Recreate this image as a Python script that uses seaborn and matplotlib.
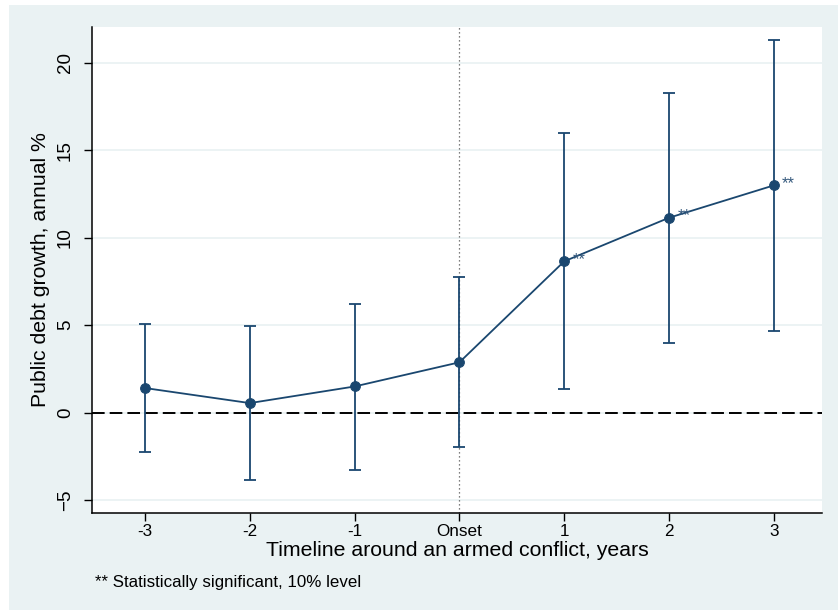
import matplotlib
matplotlib.use("Agg")
import matplotlib.pyplot as plt
from matplotlib.patches import Rectangle
import seaborn as sns
import pandas as pd

# ---- data ----
categories = ["-3", "-2", "-1", "Onset", "1", "2", "3"]
estimate = [1.41, 0.55, 1.50, 2.88, 8.65, 11.14, 12.99]
ci_upper = [5.05, 4.97, 6.20, 7.73, 15.96, 18.28, 21.28]
ci_lower = [-2.24, -3.87, -3.26, -1.94, 1.38, 4.00, 4.67]
significant = [False, False, False, False, True, True, True]
y_ticks = [-5, 0, 5, 10, 15, 20]

BG = "#EAF2F3"
NAVY = "#1A476F"

df = pd.DataFrame({
    "pos": list(range(len(categories))),
    "est": estimate,
    "lo": ci_lower,
    "hi": ci_upper,
    "sig": significant,
})
onset_pos = categories.index("Onset")
df["pos"] = df["pos"] - onset_pos

sns.set_theme(style="white")
plt.rcParams["font.family"] = ["Liberation Sans", "DejaVu Sans"]

fig = plt.figure(figsize=(8.38, 6.12), dpi=100, facecolor="white")
bg_rect = Rectangle((9 / 838, 2 / 612), 1 - 9 / 838, (610 - 5) / 612,
                    transform=fig.transFigure, facecolor=BG,
                    edgecolor="none", zorder=-10)
fig.add_artist(bg_rect)
ax = fig.add_axes([92 / 838, (612 - 513) / 612, (822 - 92) / 838, (513 - 27) / 612])
ax.set_zorder(1)
ax.set_facecolor("white")

# gridlines
ax.set_yticks(y_ticks)
ax.grid(axis="y", color=BG, linewidth=1.3, zorder=0)
ax.grid(axis="x", visible=False)

# reference lines
ax.axhline(0, color="black", linewidth=1.4, dashes=(6.5, 2.6), zorder=1)
ax.axvline(0, color="#555555", linewidth=0.9, linestyle=(0, (1, 2.2)), zorder=1)

# confidence intervals
ax.errorbar(df["pos"], df["est"],
            yerr=[df["est"] - df["lo"], df["hi"] - df["est"]],
            fmt="none", ecolor=NAVY, elinewidth=1.3, capsize=4.2,
            capthick=1.3, zorder=2)

# point estimates
sns.lineplot(data=df, x="pos", y="est", ax=ax, color=NAVY, linewidth=1.3,
             marker="o", markersize=7, markeredgecolor=NAVY,
             markerfacecolor=NAVY, zorder=3)

for _, r in df[df["sig"]].iterrows():
    ax.annotate("**", (r["pos"], r["est"]), xytext=(6, 1.5),
                textcoords="offset points", ha="left", va="center",
                fontsize=12, color="#35597d")

ax.set_xlim(-3.506, 3.46)
ax.set_ylim(-5.73, 22.04)
ax.set_xticks(df["pos"])
ax.set_xticklabels(categories)

for s in ["top", "right"]:
    ax.spines[s].set_visible(False)
for s in ["left", "bottom"]:
    ax.spines[s].set_color("black")
    ax.spines[s].set_linewidth(1.1)

ax.tick_params(axis="x", which="major", bottom=True, length=6, width=1,
               color="black", labelsize=12.3, pad=2, labelcolor="black")
ax.tick_params(axis="y", which="major", left=True, length=6, width=1,
               color="black", labelsize=13.5, pad=7, labelcolor="black")
for lab in ax.get_yticklabels():
    lab.set_rotation(90)
    lab.set_va("center")

ax.set_xlabel("Timeline around an armed conflict, years", fontsize=15.3,
              color="black", labelpad=1.5)
ax.set_ylabel("Public debt growth, annual %", fontsize=15.3, color="black",
              labelpad=5)

fig.text(95 / 838, 1 - 583 / 612, "** Statistically significant, 10% level",
         fontsize=12.2, color="black", ha="left", va="center")

fig.savefig("out.png", dpi=100, facecolor="white")
